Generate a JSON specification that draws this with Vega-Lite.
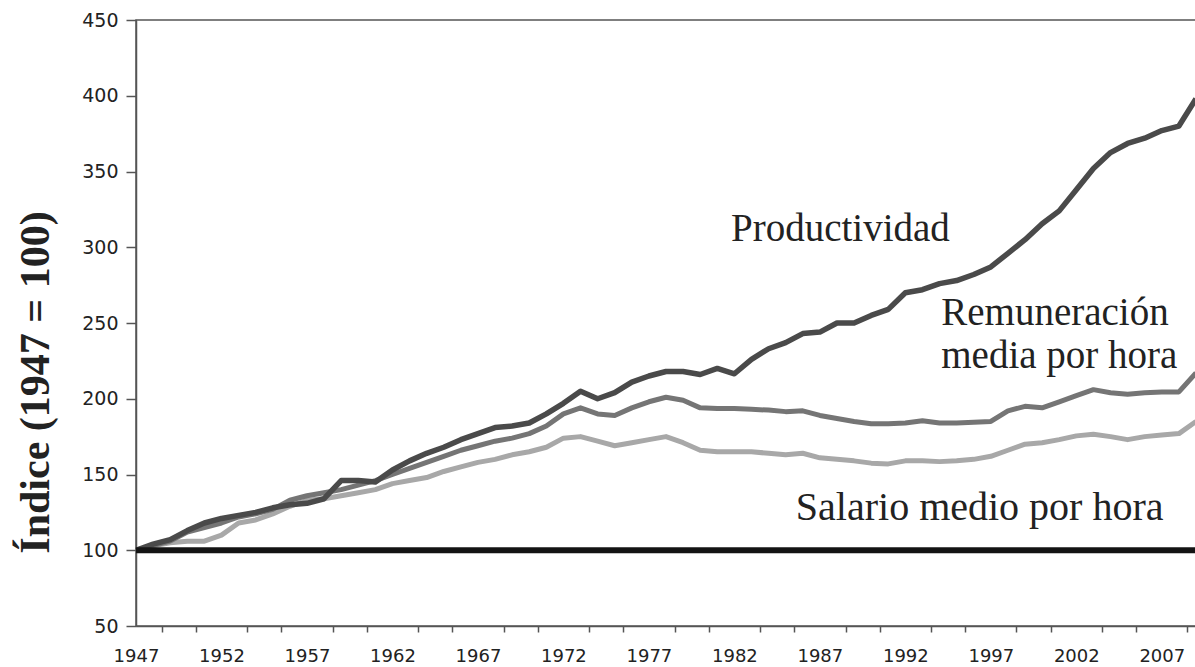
{
  "$schema": "https://vega.github.io/schema/vega-lite/v6.json",
  "width": 1060,
  "height": 606,
  "autosize": {"type": "none"},
  "padding": {"left": 136, "top": 20, "right": 0, "bottom": 41},
  "background": "white",
  "config": {
    "view": {"stroke": "#555555", "strokeWidth": 1.5},
    "axis": {"grid": false, "domainColor": "#555555", "domainWidth": 1.5, "tickColor": "#555555", "tickWidth": 1.5, "labelFont": "DejaVu Sans", "labelFontSize": 18, "labelColor": "#222222"}
  },
  "datasets": {
    "series": [
      {"year":1947,"serie":"Productividad","value":100},{"year":1948,"serie":"Productividad","value":104},{"year":1949,"serie":"Productividad","value":107},{"year":1950,"serie":"Productividad","value":113},{"year":1951,"serie":"Productividad","value":118},{"year":1952,"serie":"Productividad","value":121},{"year":1953,"serie":"Productividad","value":123},{"year":1954,"serie":"Productividad","value":125},{"year":1955,"serie":"Productividad","value":128},{"year":1956,"serie":"Productividad","value":130},{"year":1957,"serie":"Productividad","value":131},{"year":1958,"serie":"Productividad","value":134},{"year":1959,"serie":"Productividad","value":146},{"year":1960,"serie":"Productividad","value":146},{"year":1961,"serie":"Productividad","value":145},{"year":1962,"serie":"Productividad","value":153},{"year":1963,"serie":"Productividad","value":159},{"year":1964,"serie":"Productividad","value":164},{"year":1965,"serie":"Productividad","value":168},{"year":1966,"serie":"Productividad","value":173},{"year":1967,"serie":"Productividad","value":177},{"year":1968,"serie":"Productividad","value":181},{"year":1969,"serie":"Productividad","value":182},{"year":1970,"serie":"Productividad","value":184},{"year":1971,"serie":"Productividad","value":190},{"year":1972,"serie":"Productividad","value":197},{"year":1973,"serie":"Productividad","value":205},{"year":1974,"serie":"Productividad","value":200},{"year":1975,"serie":"Productividad","value":204},{"year":1976,"serie":"Productividad","value":211},{"year":1977,"serie":"Productividad","value":215},{"year":1978,"serie":"Productividad","value":218},{"year":1979,"serie":"Productividad","value":218},{"year":1980,"serie":"Productividad","value":216},{"year":1981,"serie":"Productividad","value":220},{"year":1982,"serie":"Productividad","value":216.5},{"year":1983,"serie":"Productividad","value":226},{"year":1984,"serie":"Productividad","value":233},{"year":1985,"serie":"Productividad","value":237},{"year":1986,"serie":"Productividad","value":243},{"year":1987,"serie":"Productividad","value":244},{"year":1988,"serie":"Productividad","value":250},{"year":1989,"serie":"Productividad","value":250},{"year":1990,"serie":"Productividad","value":255},{"year":1991,"serie":"Productividad","value":259},{"year":1992,"serie":"Productividad","value":270},{"year":1993,"serie":"Productividad","value":272},{"year":1994,"serie":"Productividad","value":276},{"year":1995,"serie":"Productividad","value":278},{"year":1996,"serie":"Productividad","value":282},{"year":1997,"serie":"Productividad","value":287},{"year":1998,"serie":"Productividad","value":296},{"year":1999,"serie":"Productividad","value":305},{"year":2000,"serie":"Productividad","value":315.5},{"year":2001,"serie":"Productividad","value":324},{"year":2002,"serie":"Productividad","value":338},{"year":2003,"serie":"Productividad","value":352},{"year":2004,"serie":"Productividad","value":362.5},{"year":2005,"serie":"Productividad","value":368.5},{"year":2006,"serie":"Productividad","value":372},{"year":2007,"serie":"Productividad","value":377},{"year":2008,"serie":"Productividad","value":380},{"year":2009,"serie":"Productividad","value":398},
      {"year":1947,"serie":"Remuneración","value":100},{"year":1948,"serie":"Remuneración","value":103},{"year":1949,"serie":"Remuneración","value":106},{"year":1950,"serie":"Remuneración","value":112},{"year":1951,"serie":"Remuneración","value":115},{"year":1952,"serie":"Remuneración","value":118},{"year":1953,"serie":"Remuneración","value":122},{"year":1954,"serie":"Remuneración","value":124},{"year":1955,"serie":"Remuneración","value":127},{"year":1956,"serie":"Remuneración","value":133},{"year":1957,"serie":"Remuneración","value":136},{"year":1958,"serie":"Remuneración","value":138},{"year":1959,"serie":"Remuneración","value":140},{"year":1960,"serie":"Remuneración","value":143},{"year":1961,"serie":"Remuneración","value":146},{"year":1962,"serie":"Remuneración","value":150},{"year":1963,"serie":"Remuneración","value":154},{"year":1964,"serie":"Remuneración","value":158},{"year":1965,"serie":"Remuneración","value":162},{"year":1966,"serie":"Remuneración","value":166},{"year":1967,"serie":"Remuneración","value":169},{"year":1968,"serie":"Remuneración","value":172},{"year":1969,"serie":"Remuneración","value":174},{"year":1970,"serie":"Remuneración","value":177},{"year":1971,"serie":"Remuneración","value":182},{"year":1972,"serie":"Remuneración","value":190},{"year":1973,"serie":"Remuneración","value":194},{"year":1974,"serie":"Remuneración","value":190},{"year":1975,"serie":"Remuneración","value":189},{"year":1976,"serie":"Remuneración","value":194},{"year":1977,"serie":"Remuneración","value":198},{"year":1978,"serie":"Remuneración","value":201},{"year":1979,"serie":"Remuneración","value":199},{"year":1980,"serie":"Remuneración","value":194},{"year":1981,"serie":"Remuneración","value":193.5},{"year":1982,"serie":"Remuneración","value":193.5},{"year":1983,"serie":"Remuneración","value":193},{"year":1984,"serie":"Remuneración","value":192.5},{"year":1985,"serie":"Remuneración","value":191.5},{"year":1986,"serie":"Remuneración","value":192},{"year":1987,"serie":"Remuneración","value":189},{"year":1988,"serie":"Remuneración","value":187},{"year":1989,"serie":"Remuneración","value":185},{"year":1990,"serie":"Remuneración","value":183.5},{"year":1991,"serie":"Remuneración","value":183.5},{"year":1992,"serie":"Remuneración","value":184},{"year":1993,"serie":"Remuneración","value":185.5},{"year":1994,"serie":"Remuneración","value":184},{"year":1995,"serie":"Remuneración","value":184},{"year":1996,"serie":"Remuneración","value":184.5},{"year":1997,"serie":"Remuneración","value":185},{"year":1998,"serie":"Remuneración","value":192},{"year":1999,"serie":"Remuneración","value":195},{"year":2000,"serie":"Remuneración","value":194},{"year":2001,"serie":"Remuneración","value":198},{"year":2002,"serie":"Remuneración","value":202},{"year":2003,"serie":"Remuneración","value":206},{"year":2004,"serie":"Remuneración","value":204},{"year":2005,"serie":"Remuneración","value":203},{"year":2006,"serie":"Remuneración","value":204},{"year":2007,"serie":"Remuneración","value":204.5},{"year":2008,"serie":"Remuneración","value":204.5},{"year":2009,"serie":"Remuneración","value":217},
      {"year":1947,"serie":"Salario","value":100},{"year":1948,"serie":"Salario","value":103},{"year":1949,"serie":"Salario","value":105},{"year":1950,"serie":"Salario","value":106},{"year":1951,"serie":"Salario","value":106},{"year":1952,"serie":"Salario","value":110},{"year":1953,"serie":"Salario","value":118},{"year":1954,"serie":"Salario","value":120},{"year":1955,"serie":"Salario","value":124},{"year":1956,"serie":"Salario","value":129},{"year":1957,"serie":"Salario","value":133},{"year":1958,"serie":"Salario","value":134},{"year":1959,"serie":"Salario","value":136},{"year":1960,"serie":"Salario","value":138},{"year":1961,"serie":"Salario","value":140},{"year":1962,"serie":"Salario","value":144},{"year":1963,"serie":"Salario","value":146},{"year":1964,"serie":"Salario","value":148},{"year":1965,"serie":"Salario","value":152},{"year":1966,"serie":"Salario","value":155},{"year":1967,"serie":"Salario","value":158},{"year":1968,"serie":"Salario","value":160},{"year":1969,"serie":"Salario","value":163},{"year":1970,"serie":"Salario","value":165},{"year":1971,"serie":"Salario","value":168},{"year":1972,"serie":"Salario","value":174},{"year":1973,"serie":"Salario","value":175},{"year":1974,"serie":"Salario","value":172},{"year":1975,"serie":"Salario","value":169},{"year":1976,"serie":"Salario","value":171},{"year":1977,"serie":"Salario","value":173},{"year":1978,"serie":"Salario","value":175},{"year":1979,"serie":"Salario","value":171},{"year":1980,"serie":"Salario","value":166},{"year":1981,"serie":"Salario","value":165},{"year":1982,"serie":"Salario","value":165},{"year":1983,"serie":"Salario","value":165},{"year":1984,"serie":"Salario","value":164},{"year":1985,"serie":"Salario","value":163},{"year":1986,"serie":"Salario","value":164},{"year":1987,"serie":"Salario","value":161},{"year":1988,"serie":"Salario","value":160},{"year":1989,"serie":"Salario","value":159},{"year":1990,"serie":"Salario","value":157.5},{"year":1991,"serie":"Salario","value":157},{"year":1992,"serie":"Salario","value":159},{"year":1993,"serie":"Salario","value":159},{"year":1994,"serie":"Salario","value":158.5},{"year":1995,"serie":"Salario","value":159},{"year":1996,"serie":"Salario","value":160},{"year":1997,"serie":"Salario","value":162},{"year":1998,"serie":"Salario","value":166},{"year":1999,"serie":"Salario","value":170},{"year":2000,"serie":"Salario","value":171},{"year":2001,"serie":"Salario","value":173},{"year":2002,"serie":"Salario","value":175.5},{"year":2003,"serie":"Salario","value":176.5},{"year":2004,"serie":"Salario","value":175},{"year":2005,"serie":"Salario","value":173},{"year":2006,"serie":"Salario","value":175},{"year":2007,"serie":"Salario","value":176},{"year":2008,"serie":"Salario","value":177},{"year":2009,"serie":"Salario","value":185},
      {"year":1947,"serie":"Base","value":100},{"year":2009,"serie":"Base","value":100}
    ],
    "labels": [
      {"year":1981.8,"value":304,"text":"Productividad","side":"left"},
      {"year":1994.1,"value":248.7,"text":"Remuneración\nmedia por hora","side":"left"},
      {"year":2007.1,"value":120,"text":"Salario medio por hora","side":"right"}
    ]
  },
  "encoding": {
    "x": {
      "field": "year", "type": "quantitative",
      "scale": {"domain": [1947, 2009], "nice": false, "zero": false},
      "axis": {
        "title": null, "format": "d",
        "values": [1947,1952,1957,1962,1967,1972,1977,1982,1987,1992,1997,2002,2007,1947.5,1948.5,1949.5,1950.5,1951.5,1952.5,1953.5,1954.5,1955.5,1956.5,1957.5,1958.5,1959.5,1960.5,1961.5,1962.5,1963.5,1964.5,1965.5,1966.5,1967.5,1968.5,1969.5,1970.5,1971.5,1972.5,1973.5,1974.5,1975.5,1976.5,1977.5,1978.5,1979.5,1980.5,1981.5,1982.5,1983.5,1984.5,1985.5,1986.5,1987.5,1988.5,1989.5,1990.5,1991.5,1992.5,1993.5,1994.5,1995.5,1996.5,1997.5,1998.5,1999.5,2000.5,2001.5,2002.5,2003.5,2004.5,2005.5,2006.5,2007.5,2008.5],
        "labelExpr": "datum.value % 1 === 0 ? datum.label : ''",
        "tickOpacity": {"condition": {"test": "datum.value % 1 === 0", "value": 0}, "value": 1},
        "tickSize": 6, "labelPadding": 15,
        "labelOverlap": false, "labelFlush": false, "labelBound": false
      }
    },
    "y": {
      "field": "value", "type": "quantitative",
      "scale": {"domain": [50, 450], "nice": false, "zero": false},
      "axis": {
        "values": [50,100,150,200,250,300,350,400,450],
        "tickSize": 10, "labelPadding": 8, "labelFontSize": 19,
        "title": "Índice (1947 = 100)",
        "titleFont": "Liberation Serif", "titleFontWeight": "bold", "titleFontSize": 42, "titleColor": "#222222",
        "titleAngle": -90, "titleX": -88, "titleY": 362, "titleAlign": "center", "titleBaseline": "alphabetic"
      }
    }
  },
  "layer": [
    {"data": {"name": "series"}, "transform": [{"filter": "datum.serie === 'Salario'"}], "mark": {"type": "line", "color": "#a8a8a8", "strokeWidth": 5, "strokeJoin": "round"}},
    {"data": {"name": "series"}, "transform": [{"filter": "datum.serie === 'Remuneración'"}], "mark": {"type": "line", "color": "#757575", "strokeWidth": 5, "strokeJoin": "round"}},
    {"data": {"name": "series"}, "transform": [{"filter": "datum.serie === 'Productividad'"}], "mark": {"type": "line", "color": "#4a4a4a", "strokeWidth": 5.5, "strokeJoin": "round"}},
    {"data": {"name": "series"}, "transform": [{"filter": "datum.serie === 'Base'"}], "mark": {"type": "line", "color": "#141414", "strokeWidth": 6}},
    {"data": {"name": "labels"}, "transform": [{"filter": "datum.side === 'left'"}], "mark": {"type": "text", "align": "left", "baseline": "alphabetic", "lineBreak": "\n", "lineHeight": 43.5, "font": "Liberation Serif", "fontSize": 39, "color": "#222222"}, "encoding": {"text": {"field": "text"}}},
    {"data": {"name": "labels"}, "transform": [{"filter": "datum.side === 'right'"}], "mark": {"type": "text", "align": "right", "baseline": "alphabetic", "font": "Liberation Serif", "fontSize": 40, "color": "#222222"}, "encoding": {"text": {"field": "text"}}}
  ]
}
